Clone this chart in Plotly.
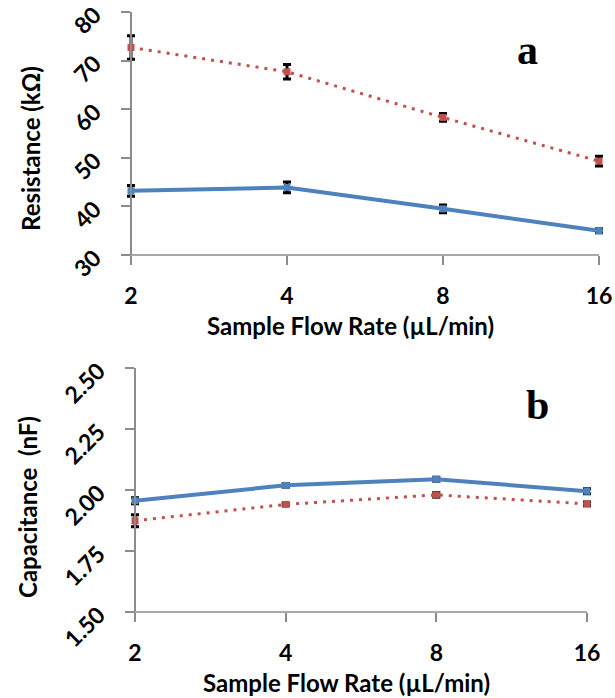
import math
import plotly.graph_objects as go

# Sample flow rates (µL/min)
flow_rates = [2, 4, 8, 16]
tick_text = ["2", "4", "8", "16"]

# Panel a: resistance (kΩ)
res_red = [72.7, 67.7, 58.3, 49.3]
res_red_err = [2.4, 1.5, 0.8, 1.0]
res_blue = [43.2, 43.9, 39.5, 35.0]
res_blue_err = [1.1, 1.1, 0.8, 0.4]

# Panel b: capacitance (nF)
cap_blue = [1.956, 2.019, 2.044, 1.995]
cap_blue_err = [0.012, 0.008, 0.008, 0.010]
cap_red = [1.874, 1.941, 1.980, 1.943]
cap_red_err = [0.025, 0.006, 0.010, 0.008]

W, H = 615, 698
BLUE = "#4F81BD"
RED = "#C0504D"
AXIS = "#8C8C8C"
FONT = "Lato"
TICK_FONT = dict(family=FONT, size=23, color="black", weight="bold")
TITLE_FONT = dict(family=FONT, size=24, color="black", weight="bold")
TICKLEN = 9
PAD = 10  # px of room left/right of the end ticks so end error bars are not clipped

# panel frames in pixels: (left tick x, right tick x, top y, bottom y)
frames = {
    "a": (131, 599, 12, 255),
    "b": (135, 587, 368, 612),
}

lo, hi = math.log10(flow_rates[0]), math.log10(flow_rates[-1])


def x_layout(left, right, anchor):
    span = right - left
    p = PAD / span * (hi - lo)
    return dict(
        type="log", range=[lo - p, hi + p],
        domain=[(left - PAD) / W, (right + PAD) / W], anchor=anchor,
        tickvals=flow_rates, ticktext=tick_text, showline=False,
        ticks="outside", ticklen=TICKLEN, tickcolor=AXIS, tickwidth=1.5,
        ticklabelstandoff=11, showgrid=False, zeroline=False,
        tickfont=TICK_FONT, automargin=False,
    )


def y_layout(left, top, bottom, rng, vals, fmt):
    return dict(
        range=rng, domain=[1 - bottom / H, 1 - top / H], anchor="free",
        position=left / W, tickvals=vals, tickformat=fmt,
        showline=True, linecolor=AXIS, linewidth=1.5,
        ticks="outside", ticklen=TICKLEN, tickcolor=AXIS, tickwidth=1.5,
        tickangle=-45, ticklabelstandoff=22, showgrid=False, zeroline=False,
        tickfont=TICK_FONT, automargin=False,
    )


def series(y, err, color, dash, width, xa, ya):
    return go.Scatter(
        x=flow_rates, y=y, xaxis=xa, yaxis=ya, mode="lines+markers",
        line=dict(color=color, width=width, dash=dash),
        marker=dict(symbol="square", size=7, color=color),
        error_y=dict(type="data", array=err, visible=True,
                     color="black", thickness=3, width=4),
        cliponaxis=False, showlegend=False,
    )


fig = go.Figure()
fig.add_trace(series(res_red, res_red_err, RED, "3px,6px", 3, "x", "y"))
fig.add_trace(series(res_blue, res_blue_err, BLUE, "solid", 4, "x", "y"))
fig.add_trace(series(cap_red, cap_red_err, RED, "3px,6px", 3, "x2", "y2"))
fig.add_trace(series(cap_blue, cap_blue_err, BLUE, "solid", 4, "x2", "y2"))

la, ra, ta, ba = frames["a"]
lb, rb, tb, bb = frames["b"]

shapes = []
for (l, r, t, b) in (frames["a"], frames["b"]):
    # category axis baseline, from the lowest y tick to the last x tick
    shapes.append(dict(type="line", xref="paper", yref="paper",
                       x0=(l - TICKLEN) / W, x1=r / W, y0=1 - b / H, y1=1 - b / H,
                       line=dict(color=AXIS, width=1.5)))


def label(text, x, y, font, angle=0):
    return dict(text=text, x=x / W, y=1 - y / H, xref="paper", yref="paper",
                showarrow=False, textangle=angle, font=font,
                xanchor="center", yanchor="middle")


serif = dict(family="Liberation Serif", size=42, color="black", weight="bold")
annotations = [
    label("Resistance (kΩ)", 30, 149, TITLE_FONT, -90),
    label("Sample Flow Rate (µL/min)", 350, 325, TITLE_FONT),
    label("Capacitance  (nF)", 27, 507, TITLE_FONT, -90),
    label("Sample Flow Rate (µL/min)", 346, 682, TITLE_FONT),
    label("a", 527, 50, serif),
    label("b", 537, 405, serif),
]

fig.update_layout(
    width=W, height=H, margin=dict(l=0, r=0, t=0, b=0, autoexpand=False),
    paper_bgcolor="white", plot_bgcolor="white",
    xaxis=x_layout(la, ra, "y"),
    yaxis=y_layout(la, ta, ba, [30, 80], [30, 40, 50, 60, 70, 80], None),
    xaxis2=x_layout(lb, rb, "y2"),
    yaxis2=y_layout(lb, tb, bb, [1.5, 2.5], [1.5, 1.75, 2.0, 2.25, 2.5], ".2f"),
    shapes=shapes, annotations=annotations,
)

fig.write_html("out.html")
